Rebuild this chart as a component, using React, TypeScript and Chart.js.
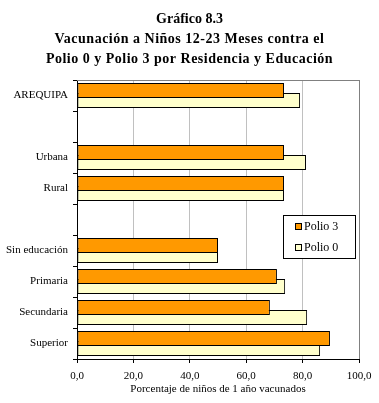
import React, { useEffect, useRef } from "react";
import { Chart, registerables } from "chart.js";

Chart.register(...registerables);

const titleLines = [
  "Gráfico 8.3",
  "Vacunación a Niños 12-23 Meses contra el",
  "Polio 0 y Polio 3 por Residencia y Educación",
];
const categories = [
  "AREQUIPA",
  "",
  "Urbana",
  "Rural",
  "",
  "Sin educación",
  "Primaria",
  "Secundaria",
  "Superior",
];
const polio3 = [73.4, null, 73.4, 73.4, null, 50.0, 70.9, 68.4, 89.7];
const polio0 = [79.1, null, 81.2, 73.4, null, 50.0, 73.8, 81.6, 86.2];
const seriesNames = ["Polio 3", "Polio 0"];
const xTickValues = [0, 20, 40, 60, 80, 100];
const xAxisTitle = "Porcentaje de niños de 1 año vacunados";

const FONT = "'Liberation Serif', 'Times New Roman', serif";

const titlePlugin = {
  id: "customTitle",
  afterDraw(chart: any) {
    const { ctx, width } = chart;
    ctx.save();
    ctx.fillStyle = "#000";
    ctx.font = `bold 14px ${FONT}`;
    ctx.textAlign = "center";
    ctx.textBaseline = "alphabetic";
    titleLines.forEach((line, i) => {
      (ctx as any).letterSpacing = i === 0 ? "0px" : "0.5px";
      ctx.fillText(line, width / 2, 23 + i * 20);
    });
    ctx.restore();
  },
};

const frameLegendPlugin = {
  id: "frameLegend",
  beforeDatasetsDraw(chart: any) {
    const { ctx, chartArea } = chart;
    ctx.save();
    ctx.strokeStyle = "#808080";
    ctx.lineWidth = 1;
    ctx.beginPath();
    ctx.moveTo(chartArea.left, chartArea.top + 0.5);
    ctx.lineTo(chartArea.right + 0.5, chartArea.top + 0.5);
    ctx.stroke();
    ctx.restore();
  },
  afterDatasetsDraw(chart: any) {
    const { ctx, chartArea } = chart;
    const x = Math.round(chartArea.right) - 76;
    const y = Math.round(chartArea.top) + 135;
    const w = 72;
    const h = 43;
    ctx.save();
    ctx.fillStyle = "#fff";
    ctx.fillRect(x, y, w, h);
    ctx.strokeStyle = "#000";
    ctx.lineWidth = 1;
    ctx.strokeRect(x + 0.5, y + 0.5, w, h);
    ctx.font = `12px ${FONT}`;
    ctx.textBaseline = "middle";
    ctx.textAlign = "left";
    chart.data.datasets.forEach((ds: any, i: number) => {
      const cy = y + 11 + i * 21;
      ctx.fillStyle = ds.backgroundColor;
      ctx.fillRect(x + 12, cy - 3, 7, 7);
      ctx.strokeStyle = "#000";
      ctx.strokeRect(x + 12.5, cy - 2.5, 6, 6);
      ctx.fillStyle = "#000";
      ctx.fillText(ds.label, x + 21, cy + 1);
    });
    ctx.restore();
  },
};

export default function App() {
  const ref = useRef<HTMLCanvasElement | null>(null);
  useEffect(() => {
    document.body.style.margin = "0";
    const canvas = ref.current;
    if (!canvas) return;
    const chart = new Chart(canvas, {
      type: "bar",
      data: {
        labels: categories,
        datasets: [
          {
            label: seriesNames[0],
            data: polio3,
            backgroundColor: "#FF9900",
            borderColor: "#000",
            borderWidth: 1,
            borderSkipped: false,
            categoryPercentage: 20 / 31,
            barPercentage: 1.5,
          },
          {
            label: seriesNames[1],
            data: polio0,
            backgroundColor: "#FFFFCC",
            borderColor: "#000",
            borderWidth: 1,
            borderSkipped: false,
            categoryPercentage: 20 / 31,
            barPercentage: 1.5,
          },
        ],
      },
      options: {
        indexAxis: "y",
        animation: false,
        responsive: false,
        layout: { padding: { top: 80, right: 20, left: 0, bottom: 0 } },
        plugins: {
          legend: { display: false },
          title: { display: false },
          tooltip: { enabled: false },
        },
        scales: {
          x: {
            type: "linear",
            min: 0,
            max: 100,
            afterBuildTicks(scale: any) {
              scale.ticks = xTickValues.map((v) => ({ value: v }));
            },
            afterFit(scale: any) {
              scale.height = 44;
            },
            ticks: {
              color: "#000",
              font: { family: FONT, size: 11 },
              padding: 7,
              maxRotation: 0,
              callback: (v: any) => Number(v).toFixed(1).replace(".", ","),
            },
            grid: {
              color: (c: any) =>
                c.tick && c.tick.value === 100 ? "#808080" : "#c0c0c0",
              tickColor: "#000",
              tickLength: 4,
            },
            border: { color: "#000", width: 1 },
            title: {
              display: true,
              text: xAxisTitle,
              color: "#000",
              font: { family: FONT, size: 11 },
              padding: { top: 0, bottom: 7 },
            },
          },
          y: {
            type: "category",
            afterFit(scale: any) {
              scale.width = 77;
            },
            ticks: {
              color: "#000",
              font: { family: FONT, size: 11 },
              padding: 5,
            },
            grid: {
              drawOnChartArea: false,
              tickColor: "#000",
              tickLength: 4,
            },
            border: { color: "#000", width: 1 },
          },
        },
      },
      plugins: [titlePlugin, frameLegendPlugin],
    } as any);
    return () => chart.destroy();
  }, []);
  return (
    <canvas
      ref={ref}
      width={379}
      height={403}
      style={{ display: "block", width: 379, height: 403 }}
    />
  );
}
